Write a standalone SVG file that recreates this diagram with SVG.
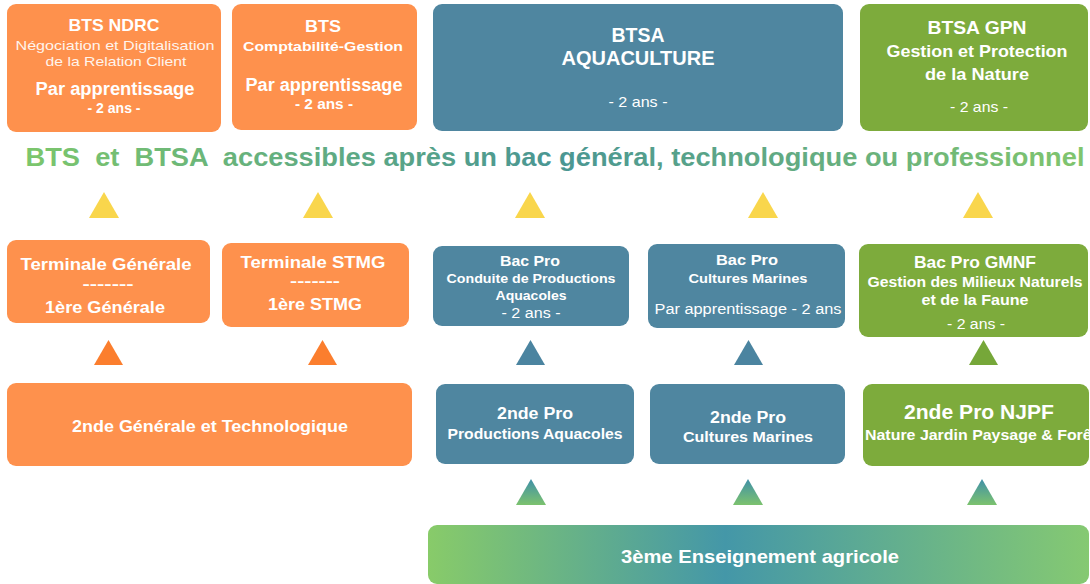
<svg xmlns="http://www.w3.org/2000/svg" width="1090" height="584" viewBox="0 0 1090 584">
<defs>
<linearGradient id="gTitle" x1="26" y1="0" x2="1085" y2="0" gradientUnits="userSpaceOnUse">
<stop offset="0" stop-color="#7cc66c"/>
<stop offset="0.5" stop-color="#4a9693"/>
<stop offset="1" stop-color="#80c56d"/>
</linearGradient>
<linearGradient id="gBar" x1="428" y1="0" x2="1088" y2="0" gradientUnits="userSpaceOnUse">
<stop offset="0" stop-color="#88cb69"/>
<stop offset="0.45" stop-color="#4497a8"/>
<stop offset="1" stop-color="#85c972"/>
</linearGradient>
<linearGradient id="gTri" x1="0" y1="0" x2="0" y2="1">
<stop offset="0" stop-color="#3f90a8"/>
<stop offset="1" stop-color="#7cc26e"/>
</linearGradient>
<style>
.o{fill:#fe914d}
.b{fill:#4f86a0}
.g{fill:#7dab3c}
text{fill:#fff;font-family:"Liberation Sans",Arial,sans-serif;text-anchor:middle}
.bd{font-weight:bold}
.rg{font-weight:normal;fill:#fff4ec}
.ty{fill:#f9d64c}
.to{fill:#fb7e2e}
.tb{fill:#4b84a0}
.tg{fill:#76a739}
.tgr{fill:url(#gTri)}
</style>
</defs>
<rect width="1090" height="584" fill="#ffffff"/>

<g id="bts-ndrc">
<rect class="o" x="7" y="4" width="214" height="128" rx="9"/>
<text class="bd" x="114" y="31" font-size="17" textLength="91" lengthAdjust="spacingAndGlyphs">BTS NDRC</text>
<text class="rg" x="115" y="50" font-size="13.5" textLength="199" lengthAdjust="spacingAndGlyphs">Négociation et Digitalisation</text>
<text class="rg" x="116" y="66" font-size="13.5" textLength="141" lengthAdjust="spacingAndGlyphs">de la Relation Client</text>
<text class="bd" x="115" y="95" font-size="17.5" textLength="159" lengthAdjust="spacingAndGlyphs">Par apprentissage</text>
<text class="bd" x="114" y="113" font-size="14.5" textLength="53" lengthAdjust="spacingAndGlyphs">- 2 ans -</text>
</g>

<g id="bts-cg">
<rect class="o" x="232" y="4" width="185" height="126" rx="9"/>
<text class="bd" x="323" y="32" font-size="17" textLength="36" lengthAdjust="spacingAndGlyphs">BTS</text>
<text class="bd" x="323" y="51" font-size="13.5" textLength="160" lengthAdjust="spacingAndGlyphs">Comptabilité-Gestion</text>
<text class="bd" x="324" y="91" font-size="17.5" textLength="157" lengthAdjust="spacingAndGlyphs">Par apprentissage</text>
<text class="bd" x="324" y="109" font-size="14.5" textLength="58" lengthAdjust="spacingAndGlyphs">- 2 ans -</text>
</g>

<g id="btsa-aqua">
<rect class="b" x="433" y="4" width="410" height="127" rx="9"/>
<text class="bd" x="638" y="42" font-size="20" textLength="53" lengthAdjust="spacingAndGlyphs">BTSA</text>
<text class="bd" x="638" y="65" font-size="20" textLength="153" lengthAdjust="spacingAndGlyphs">AQUACULTURE</text>
<text x="638" y="107" font-size="15" textLength="59" lengthAdjust="spacingAndGlyphs">- 2 ans -</text>
</g>

<g id="btsa-gpn">
<rect class="g" x="860" y="4" width="228" height="127" rx="9"/>
<text class="bd" x="977" y="34" font-size="19" textLength="99" lengthAdjust="spacingAndGlyphs">BTSA GPN</text>
<text class="bd" x="977" y="57" font-size="17" textLength="181" lengthAdjust="spacingAndGlyphs">Gestion et Protection</text>
<text class="bd" x="977" y="80" font-size="17" textLength="104" lengthAdjust="spacingAndGlyphs">de la Nature</text>
<text x="979" y="112" font-size="15" textLength="58" lengthAdjust="spacingAndGlyphs">- 2 ans -</text>
</g>

<g id="title">
<text class="bd" x="555" y="166" font-size="26" textLength="1059" lengthAdjust="spacingAndGlyphs" xml:space="preserve" style="fill:url(#gTitle);white-space:pre">BTS  et  BTSA  accessibles après un bac général, technologique ou professionnel</text>
</g>

<g id="terminale-generale">
<rect class="o" x="7" y="240" width="203" height="83" rx="9"/>
<text class="bd" x="106" y="270" font-size="16" textLength="171" lengthAdjust="spacingAndGlyphs">Terminale Générale</text>
<text class="bd" x="108" y="289" font-size="14" textLength="51" lengthAdjust="spacingAndGlyphs">-------</text>
<text class="bd" x="105" y="313" font-size="16" textLength="120" lengthAdjust="spacingAndGlyphs">1ère Générale</text>
</g>

<g id="terminale-stmg">
<rect class="o" x="222" y="243" width="187" height="84" rx="9"/>
<text class="bd" x="313" y="268" font-size="16" textLength="145" lengthAdjust="spacingAndGlyphs">Terminale STMG</text>
<text class="bd" x="315" y="286" font-size="14" textLength="50" lengthAdjust="spacingAndGlyphs">-------</text>
<text class="bd" x="315" y="310" font-size="16" textLength="94" lengthAdjust="spacingAndGlyphs">1ère STMG</text>
</g>

<g id="bacpro-cpa">
<rect class="b" x="433" y="246" width="196" height="80" rx="9"/>
<text class="bd" x="530" y="266" font-size="15" textLength="60" lengthAdjust="spacingAndGlyphs">Bac Pro</text>
<text class="bd" x="531" y="283" font-size="13" textLength="169" lengthAdjust="spacingAndGlyphs">Conduite de Productions</text>
<text class="bd" x="531" y="300" font-size="13" textLength="71" lengthAdjust="spacingAndGlyphs">Aquacoles</text>
<text x="531" y="318" font-size="14" textLength="59" lengthAdjust="spacingAndGlyphs">- 2 ans -</text>
</g>

<g id="bacpro-cm">
<rect class="b" x="648" y="244" width="197" height="84" rx="9"/>
<text class="bd" x="747" y="265" font-size="15" textLength="62" lengthAdjust="spacingAndGlyphs">Bac Pro</text>
<text class="bd" x="748" y="283" font-size="13" textLength="119" lengthAdjust="spacingAndGlyphs">Cultures Marines</text>
<text x="748" y="314" font-size="14" textLength="187" lengthAdjust="spacingAndGlyphs">Par apprentissage - 2 ans</text>
</g>

<g id="bacpro-gmnf">
<rect class="g" x="859" y="244" width="229" height="93" rx="9"/>
<text class="bd" x="975" y="268" font-size="17" textLength="122" lengthAdjust="spacingAndGlyphs">Bac Pro GMNF</text>
<text class="bd" x="975" y="287" font-size="14" textLength="215" lengthAdjust="spacingAndGlyphs">Gestion des Milieux Naturels</text>
<text class="bd" x="975" y="305" font-size="14" textLength="107" lengthAdjust="spacingAndGlyphs">et de la Faune</text>
<text x="976" y="329" font-size="14" textLength="58" lengthAdjust="spacingAndGlyphs">- 2 ans -</text>
</g>

<g id="seconde-gt">
<rect class="o" x="7" y="383" width="405" height="83" rx="9"/>
<text class="bd" x="210" y="432" font-size="16" textLength="276" lengthAdjust="spacingAndGlyphs">2nde Générale et Technologique</text>
</g>

<g id="seconde-pro-pa">
<rect class="b" x="436" y="384" width="198" height="80" rx="9"/>
<text class="bd" x="535" y="419" font-size="16" textLength="76" lengthAdjust="spacingAndGlyphs">2nde Pro</text>
<text class="bd" x="535" y="439" font-size="14" textLength="175" lengthAdjust="spacingAndGlyphs">Productions Aquacoles</text>
</g>

<g id="seconde-pro-cm">
<rect class="b" x="650" y="384" width="195" height="80" rx="9"/>
<text class="bd" x="748" y="423" font-size="16" textLength="76" lengthAdjust="spacingAndGlyphs">2nde Pro</text>
<text class="bd" x="748" y="442" font-size="14" textLength="130" lengthAdjust="spacingAndGlyphs">Cultures Marines</text>
</g>

<g id="seconde-pro-njpf">
<rect class="g" x="863" y="384" width="226" height="82" rx="9"/>
<text class="bd" x="979" y="419" font-size="20" textLength="150" lengthAdjust="spacingAndGlyphs">2nde Pro NJPF</text>
<text class="bd" x="865" y="440" font-size="14.5" textLength="232" lengthAdjust="spacingAndGlyphs" style="text-anchor:start">Nature Jardin Paysage &amp; Forêt</text>
</g>

<g id="troisieme">
<rect x="428" y="525" width="661" height="59" rx="9" fill="url(#gBar)"/>
<text class="bd" x="760" y="563" font-size="19" textLength="278" lengthAdjust="spacingAndGlyphs">3ème Enseignement agricole</text>
</g>

<g id="connectors">
<polygon class="ty" points="89,218 119,218 104,192"/>
<polygon class="ty" points="303,218 333,218 318,192"/>
<polygon class="ty" points="515,218 545,218 530,192"/>
<polygon class="ty" points="748,218 778,218 763,192"/>
<polygon class="ty" points="963,218 993,218 978,192"/>
<polygon class="to" points="94,365 123,365 108.5,340"/>
<polygon class="to" points="308,365 337,365 322.5,340"/>
<polygon class="tb" points="516,365 545,365 530.5,340"/>
<polygon class="tb" points="734,365 763,365 748.5,340"/>
<polygon class="tg" points="969,365 998,365 983.5,340"/>
<polygon class="tgr" points="516,505 546,505 531,479"/>
<polygon class="tgr" points="733,505 763,505 748,479"/>
<polygon class="tgr" points="967,505 997,505 982,479"/>
</g>
</svg>
